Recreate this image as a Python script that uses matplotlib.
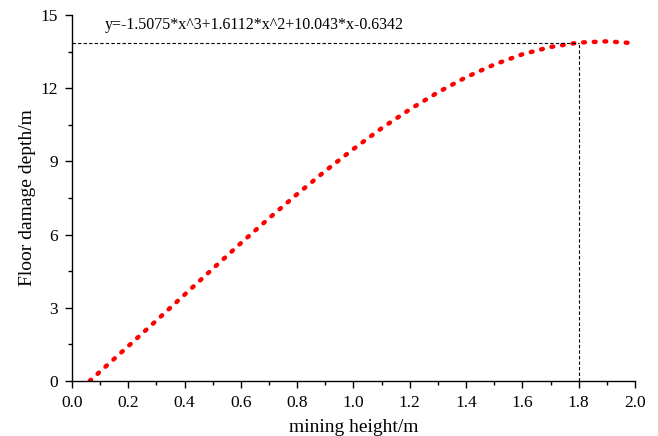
import numpy as np
import matplotlib.pyplot as plt
from matplotlib.ticker import MultipleLocator

# values
height = [0.063, 0.1, 0.2, 0.3, 0.4, 0.5, 0.6, 0.7, 0.8, 0.9, 1.0,
          1.1, 1.2, 1.3, 1.4, 1.5, 1.6, 1.7, 1.8, 1.9, 2.0]
depth = [0.0, 0.39, 1.43, 2.48, 3.54, 4.60, 5.65, 6.67, 7.66, 8.61, 9.51,
         10.36, 11.13, 11.83, 12.45, 12.97, 13.39, 13.69, 13.87, 13.92, 13.84]
mark_x = 1.8
mark_y = 13.87
equation = 'y=-1.5075*x^3+1.6112*x^2+10.043*x-0.6342'

plt.rcParams['font.family'] = ['Liberation Serif', 'DejaVu Serif']

fig = plt.figure(figsize=(6.58, 4.36), dpi=100)
ax = fig.add_axes([0.1094, 0.1261, 0.8556, 0.8395])

ax.plot(height, depth, color='red', linestyle=(0, (0.4, 2.0)), linewidth=3.2,
        dash_capstyle='round', solid_capstyle='round')
ax.plot([0, mark_x], [mark_y, mark_y], color='black', linestyle=(0, (3, 2)), linewidth=0.8)
ax.plot([mark_x, mark_x], [0, mark_y], color='black', linestyle=(0, (3, 2)), linewidth=0.8)

ax.text(0.118, 14.6, equation, fontsize=11.5, va='center', ha='left')

ax.set_xlim(0, 2.0)
ax.set_ylim(0, 15)
ax.xaxis.set_minor_locator(MultipleLocator(0.1))
ax.yaxis.set_major_locator(MultipleLocator(3))
ax.yaxis.set_minor_locator(MultipleLocator(1.5))
ax.set_xticks(np.arange(0, 2.01, 0.2))
ax.set_xticklabels(['%.1f' % v for v in np.arange(0, 2.01, 0.2)])

ax.spines['top'].set_visible(False)
ax.spines['right'].set_visible(False)
for s in ['left', 'bottom']:
    ax.spines[s].set_linewidth(1.0)
ax.tick_params(which='major', direction='out', length=5, width=1.0, labelsize=12.5, pad=5)
ax.tick_params(which='minor', direction='out', length=3, width=1.0)

ax.set_xlabel('mining height/m', fontsize=14, labelpad=6)
ax.set_ylabel('Floor damage depth/m', fontsize=14, labelpad=3)

fig.savefig('out.png', dpi=100)
